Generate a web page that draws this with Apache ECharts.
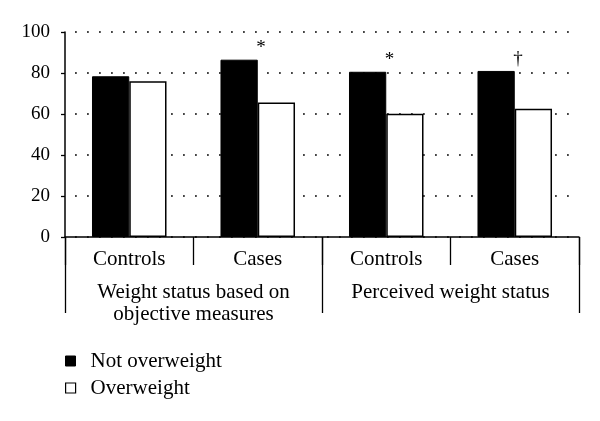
<!DOCTYPE html>
<html>
<head>
<meta charset="utf-8">
<script src="https://cdn.jsdelivr.net/npm/echarts@6/dist/echarts.min.js"></script>
<style>html,body{margin:0;padding:0;background:#fff}#c{width:600px;height:421px}</style>
</head>
<body>
<div id="c"></div>
<script>
const groups = ['Controls', 'Cases', 'Controls', 'Cases'];
const measures = ['Weight status based on\nobjective measures', 'Perceived weight status'];
const notOverweight = [78.4, 86.5, 80.6, 81.0];
const overweight = [76.0, 65.6, 60.1, 62.6];
const annotations = ['', '*', '*', '\u2020'];
const seriesNames = ['Not overweight', 'Overweight'];
const yTicks = { min: 0, max: 100, interval: 20 };

const FONT = 'Liberation Serif';
const legendText = { fontFamily: FONT, fontSize: 21, color: '#000', lineHeight: 22, padding: [0, 0, 0, 10] };
const chart = echarts.init(document.getElementById('c'), null, { renderer: 'canvas' });
chart.setOption({
  animation: false,
  backgroundColor: '#fff',
  textStyle: { fontFamily: FONT, color: '#000' },
  grid: { left: 65, right: 21, top: 32, bottom: 184, containLabel: false },
  legend: [
    {
      left: 65, top: 350, padding: 0, itemWidth: 10, itemHeight: 10, icon: 'rect',
      textStyle: legendText,
      data: [{ name: seriesNames[0], itemStyle: { color: '#000', borderColor: '#000', borderWidth: 1 } }]
    },
    {
      left: 65, top: 377, padding: 0, itemWidth: 10, itemHeight: 10, icon: 'rect',
      textStyle: legendText,
      data: [{ name: seriesNames[1], itemStyle: { color: '#fff', borderColor: '#000', borderWidth: 1.2 } }]
    }
  ],
  xAxis: [
    {
      type: 'category', data: groups, position: 'bottom',
      axisLine: { show: true, lineStyle: { color: '#000', width: 1.5 } },
      axisTick: { show: true, length: 28, interval: 0, lineStyle: { color: '#000', width: 1.3 } },
      axisLabel: { interval: 0, margin: 11, fontFamily: FONT, fontSize: 21, color: '#000', lineHeight: 22 },
      splitLine: { show: false }
    },
    {
      type: 'category', data: measures, position: 'bottom', gridIndex: 0,
      axisLine: { show: false },
      axisTick: { show: true, length: 76, interval: 0, lineStyle: { color: '#000', width: 1.3 } },
      axisLabel: { interval: 0, margin: 44, fontFamily: FONT, fontSize: 21, color: '#000', lineHeight: 22 },
      splitLine: { show: false }
    }
  ],
  yAxis: {
    type: 'value', min: yTicks.min, max: yTicks.max, interval: yTicks.interval,
    axisLine: { show: true, lineStyle: { color: '#000', width: 1.5 } },
    axisTick: { show: true, length: 4, lineStyle: { color: '#000', width: 1.3 } },
    axisLabel: { margin: 15, fontFamily: FONT, fontSize: 19, color: '#000' },
    splitLine: { show: true, lineStyle: { color: '#444', width: 1.8, type: [1.8, 10.2], dashOffset: 2 } }
  },
  series: [
    {
      name: seriesNames[0], type: 'bar', xAxisIndex: 0, data: notOverweight,
      barGap: '0%', barCategoryGap: '42%',
      itemStyle: { color: '#000', borderColor: '#000', borderWidth: 1 },
      label: {
        show: true, position: 'top', distance: 2, offset: [22, 0],
        fontFamily: FONT, fontSize: 19, color: '#000',
        formatter: p => annotations[p.dataIndex]
      }
    },
    {
      name: seriesNames[1], type: 'bar', xAxisIndex: 0, data: overweight,
      barGap: '0%', barCategoryGap: '42%',
      itemStyle: { color: '#fff', borderColor: '#000', borderWidth: 1.5 }
    }
  ]
});
</script>
</body>
</html>
